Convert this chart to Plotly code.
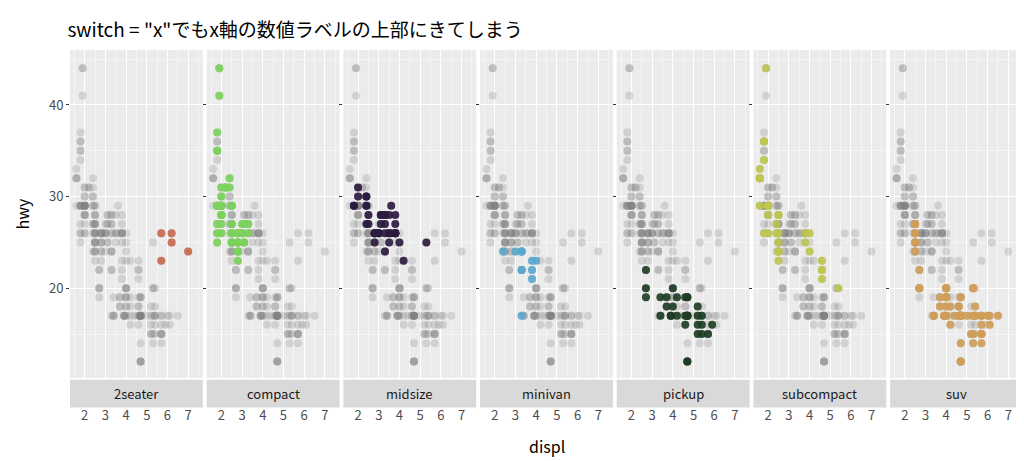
import plotly.graph_objects as go
from plotly.subplots import make_subplots

classes = ["2seater","compact","midsize","minivan","pickup","subcompact","suv"]
colors = ["#C8674F","#7BD35B","#2B1B40","#5AA8CE","#1E3D24","#BFC64E","#D09D58"]

displ = {
 "2seater":[5.7,5.7,6.2,6.2,7.0],
 "compact":[1.8,1.8,2.0,2.0,2.8,2.8,3.1,1.8,1.8,2.0,2.0,2.8,2.8,3.1,3.1,1.8,1.8,1.8,1.8,1.8,2.2,2.2,2.4,2.4,3.0,3.0,3.3,3.3,2.5,2.5,2.5,2.5,2.5,2.0,2.0,2.0,2.0,2.8,1.9,1.9,2.0,2.0,2.0,2.5,2.5,2.8,2.8],
 "midsize":[2.8,3.1,4.2,2.8,2.8,3.1,3.8,3.8,3.8,5.3,2.4,2.4,3.1,3.5,3.6,2.4,3.0,3.3,3.3,3.3,3.3,3.3,3.8,3.8,3.8,4.0,2.4,2.4,2.5,2.5,3.5,3.5,3.0,3.0,3.5,1.8,1.8,2.0,2.0,2.8,3.6],
 "minivan":[2.4,3.0,3.3,3.3,3.3,3.3,3.3,3.8,3.8,3.8,4.0],
 "pickup":[3.7,3.7,3.9,3.9,4.7,4.7,4.7,5.2,5.2,4.7,4.7,4.7,4.7,5.2,5.2,5.7,5.9,4.2,4.2,4.6,4.6,4.6,5.4,5.4,5.4,2.7,2.7,2.7,3.4,3.4,4.0,4.0,4.7],
 "subcompact":[3.8,3.8,4.0,4.0,4.6,4.6,4.6,4.6,5.4,1.6,1.6,1.6,1.6,1.6,1.8,1.8,1.8,2.0,2.0,2.0,2.4,2.4,2.5,2.5,2.5,2.5,2.5,1.9,2.0,2.0,2.0,2.0,2.5,2.5,1.8],
 "suv":[5.3,5.3,5.3,5.7,6.0,5.3,5.3,5.7,6.5,3.7,3.7,3.9,3.9,4.7,4.7,4.7,5.2,5.7,5.7,6.1,4.0,4.0,4.0,4.0,4.6,5.0,5.4,5.4,4.2,4.7,4.7,5.7,4.0,4.0,4.6,4.6,4.0,4.7,4.7,4.7,5.7,5.7,6.1,2.5,2.5,2.5,2.5,2.5,2.5,2.5,2.7,2.7,2.7,3.4,3.4,4.0,4.0,4.7,4.7,4.2,4.4,5.4],
}
hwy = {
 "2seater":[26,23,26,25,24],
 "compact":[29,29,31,30,26,26,27,26,25,28,27,25,25,25,25,35,37,35,29,27,31,31,31,32,26,27,27,26,26,25,26,25,27,29,29,28,29,24,44,41,29,26,28,29,29,23,24],
 "midsize":[26,27,23,26,25,28,26,26,26,25,30,30,28,28,26,29,26,28,27,26,28,24,27,26,28,25,27,29,27,28,26,26,26,26,25,29,29,31,30,26,29],
 "minivan":[24,24,22,22,24,24,17,22,21,23,23],
 "pickup":[19,18,17,17,19,19,12,17,15,17,17,12,17,16,18,15,16,17,19,19,17,16,17,16,15,19,20,22,17,19,18,20,17],
 "subcompact":[26,25,26,24,21,22,23,22,20,33,32,32,29,32,34,36,36,29,29,28,26,27,28,28,24,25,26,44,29,26,29,29,23,24,26],
 "suv":[20,15,20,17,17,17,14,15,17,19,18,17,17,19,12,17,15,17,15,16,19,17,19,20,17,17,18,17,18,17,12,16,18,17,18,18,20,17,14,17,15,14,17,26,25,26,27,25,27,24,20,22,20,17,17,20,19,17,17,16,17,17],
}
alld = [v for c in classes for v in displ[c]]
allh = [v for c in classes for v in hwy[c]]

fig = make_subplots(rows=1, cols=7, shared_yaxes=True, horizontal_spacing=0.004)
for i, c in enumerate(classes, start=1):
    fig.add_trace(go.Scatter(x=alld, y=allh, mode="markers",
        marker=dict(color="rgba(128,128,128,0.25)", size=8), showlegend=False), row=1, col=i)
    fig.add_trace(go.Scatter(x=displ[c], y=hwy[c], mode="markers",
        marker=dict(color=colors[i-1], size=8, opacity=0.9), showlegend=False), row=1, col=i)
    xa = "x" if i == 1 else f"x{i}"
    fig.add_shape(type="rect", xref=f"{xa} domain", yref="paper", x0=0, x1=1, y0=-0.09, y1=-0.005,
                  fillcolor="#D9D9D9", line_width=0, layer="below")
    fig.add_annotation(text=c, xref=f"{xa} domain", yref="paper", x=0.5, y=-0.0475, yanchor="middle",
                       showarrow=False, font=dict(size=13, color="#1A1A1A"))
    fig.update_xaxes(range=[1.29, 7.71], tickvals=[2,3,4,5,6,7], showgrid=True, gridcolor="white",
                     minor=dict(dtick=0.5, tick0=1.5, showgrid=True, gridcolor="#F5F5F5"),
                     ticks="", zeroline=False,
                     ticklabelstandoff=28, tickfont=dict(size=13, color="#4D4D4D"), row=1, col=i)
fig.update_yaxes(range=[10.2, 46], tickvals=[20,30,40], showgrid=True, gridcolor="white",
                 minor=dict(tickvals=[15,25,35,45], showgrid=True, gridcolor="#F5F5F5"),
                 ticks="outside", ticklen=3, tickcolor="#333", zeroline=False,
                 tickfont=dict(size=13, color="#4D4D4D"))
fig.update_yaxes(title_text="hwy", title_font=dict(size=16, color="#000"), row=1, col=1)
fig.add_annotation(text="displ", xref="paper", yref="paper", x=0.5, y=-0.25, showarrow=False,
                   font=dict(size=16, color="#000"))
fig.update_layout(width=1024, height=461, plot_bgcolor="#EBEBEB", paper_bgcolor="white",
                  margin=dict(l=62, r=9, t=42, b=91),
                  font=dict(family="Noto Sans CJK JP"),
                  title=dict(text='switch = "x"でもx軸の数値ラベルの上部にきてしまう', x=0.058, y=0.965,
                             font=dict(size=19, color="#000")))
fig.write_html("out.html")
